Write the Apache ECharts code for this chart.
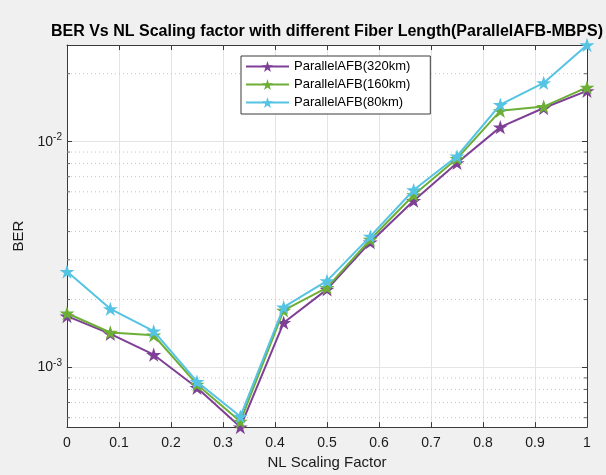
<!DOCTYPE html>
<html><head><meta charset="utf-8">
<script src="https://cdn.jsdelivr.net/npm/echarts@6/dist/echarts.min.js"></script>
<style>html,body{margin:0;padding:0;background:#f0f0f0}#c{width:606px;height:475px}</style>
</head><body><div id="c"></div>
<script>
// ---- data ----
const xValues = [0, 0.0833, 0.1667, 0.25, 0.3333, 0.4167, 0.5, 0.5833, 0.6667, 0.75, 0.8333, 0.9167, 1];
const ber320 = [0.00169, 0.00141, 0.00114, 0.000814, 0.000545, 0.00158, 0.00222, 0.00359, 0.00548, 0.00805, 0.0116, 0.0141, 0.0168];
const ber160 = [0.00174, 0.00143, 0.00139, 0.000842, 0.000577, 0.00179, 0.00226, 0.00369, 0.00581, 0.00842, 0.0137, 0.0143, 0.0174];
const ber80  = [0.00266, 0.00182, 0.00145, 0.000866, 0.000607, 0.00185, 0.00242, 0.00381, 0.00611, 0.00862, 0.0146, 0.0182, 0.0268];
const seriesNames = ['ParallelAFB(320km)', 'ParallelAFB(160km)', 'ParallelAFB(80km)'];
const seriesColors = ['#7E3F96', '#6DAE36', '#55C3E3'];
const minorTickValues = [6e-4, 7e-4, 8e-4, 9e-4, 2e-3, 3e-3, 4e-3, 5e-3, 6e-3, 7e-3, 8e-3, 9e-3, 2e-2];
const titleText = 'BER Vs NL Scaling factor with different Fiber Length(ParallelAFB-MBPS)';
const xName = 'NL Scaling Factor';
const yName = 'BER';

const allVals = ber320.concat(ber160, ber80);
const yMin = Math.min.apply(null, allVals);
const yMax = Math.max.apply(null, allVals);

const FONT = 'Liberation Sans, Arial, sans-serif';
const AXIS_COLOR = '#3a3a3a';
const STAR = 'path://M100,0 L122.45,69.1 L195.1,69.1 L136.3,111.8 L158.8,180.9 L100,138.2 L41.2,180.9 L63.7,111.8 L4.9,69.1 L77.55,69.1 Z';

function isPow10(v) { const l = Math.log10(v); return Math.abs(l - Math.round(l)) < 1e-6; }

const chart = echarts.init(document.getElementById('c'), null, {renderer: 'canvas'});

const xBase = {
  type: 'value', min: 0, max: 1, interval: 0.1,
  axisLine: {show: true, onZero: false, lineStyle: {color: AXIS_COLOR, width: 1}},
  axisTick: {show: true, inside: true, length: 5, lineStyle: {color: AXIS_COLOR}},
  splitLine: {show: false}
};
const yBase = {
  type: 'log', logBase: 10, min: yMin, max: yMax,
  axisLine: {show: true, onZero: false, lineStyle: {color: AXIS_COLOR, width: 1}},
  axisTick: {show: true, inside: true, length: 5, lineStyle: {color: AXIS_COLOR}},
  splitLine: {show: false}
};

// dotted minor grid lines (one per minor value, across the full x range)
const minorGridSeries = minorTickValues.map(v => ({
  type: 'line', xAxisIndex: 0, yAxisIndex: 0, silent: true, z: 1,
  symbol: 'none', data: [[0, v], [1, v]],
  lineStyle: {color: '#c4c4c4', width: 1, type: [1, 3]},
  emphasis: {disabled: true}, tooltip: {show: false}
}));

// minor tick marks on left and right borders
const minorTickSeries = [
  {x: 0, off: 1.5}, {x: 1, off: -1.5}
].map(s => ({
  type: 'scatter', xAxisIndex: 0, yAxisIndex: 0, z: 2, silent: true,
  symbol: 'rect', symbolSize: [3, 1], symbolOffset: [s.off, 0],
  itemStyle: {color: AXIS_COLOR}, clip: false,
  data: minorTickValues.map(v => [s.x, v])
}));

const dataSeries = [ber320, ber160, ber80].map((arr, i) => ({
  name: seriesNames[i], type: 'line', xAxisIndex: 0, yAxisIndex: 0,
  data: xValues.map((x, j) => [x, arr[j]]),
  symbol: STAR, symbolSize: 15, symbolKeepAspect: true,
  clip: false, z: 5 + i,
  lineStyle: {color: seriesColors[i], width: 2},
  itemStyle: {color: seriesColors[i]},
  emphasis: {disabled: true}
}));

const option = {
  animation: false,
  backgroundColor: '#f0f0f0',
  grid: {left: 67, right: 19, top: 45, bottom: 46, show: true, backgroundColor: '#ffffff', borderWidth: 0},
  graphic: [{
    type: 'text', x: 327, y: 24,
    style: {text: titleText, font: 'bold 16px ' + FONT, fill: '#000', textAlign: 'center', textVerticalAlign: 'top'}
  }],
  xAxis: [
    Object.assign({}, xBase, {
      position: 'bottom',
      name: xName, nameLocation: 'middle', nameGap: 26,
      nameTextStyle: {fontFamily: FONT, fontSize: 15, color: '#1a1a1a'},
      axisLabel: {show: true, margin: 9, fontFamily: FONT, fontSize: 14, color: '#1a1a1a',
        formatter: v => String(Math.round(v * 10) / 10)},
      splitLine: {show: true, lineStyle: {color: '#e4e4e4', width: 1}}
    }),
    Object.assign({}, xBase, {position: 'top', axisLabel: {show: false}})
  ],
  yAxis: [
    Object.assign({}, yBase, {
      position: 'left',
      name: yName, nameLocation: 'middle', nameGap: 39, nameRotate: 90,
      nameTextStyle: {fontFamily: FONT, fontSize: 15, color: '#1a1a1a'},
      axisLabel: {show: true, margin: 5, showMinLabel: false, showMaxLabel: false,
        formatter: v => isPow10(v) ? '{b|10}{s|' + Math.round(Math.log10(v)) + '}' : '',
        rich: {b: {fontFamily: FONT, fontSize: 14, color: '#1a1a1a'},
               s: {fontFamily: FONT, fontSize: 10, color: '#1a1a1a', padding: [0, 0, 9, 0]}}},
      axisTick: {show: true, inside: true, length: 5, lineStyle: {color: AXIS_COLOR}},
      splitLine: {show: true, lineStyle: {color: '#e4e4e4', width: 1}}
    }),
    Object.assign({}, yBase, {position: 'right', axisLabel: {show: false},
      axisTick: {show: true, inside: true, length: 5, lineStyle: {color: AXIS_COLOR}}})
  ],
  legend: {
    data: seriesNames, orient: 'vertical', left: 241, top: 56,
    itemWidth: 43, itemHeight: 14, itemGap: 5,
    padding: [4, 20, 5, 4],
    backgroundColor: '#ffffff', borderColor: '#3a3a3a', borderWidth: 1, borderRadius: 0,
    textStyle: {fontFamily: FONT, fontSize: 13, color: '#000'},
    selectedMode: false
  },
  series: minorGridSeries.concat(minorTickSeries, dataSeries)
};
chart.setOption(option);
</script></body></html>
